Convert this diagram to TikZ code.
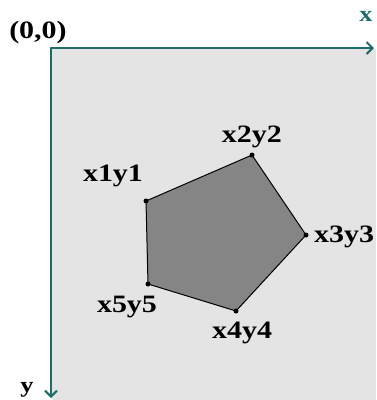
\documentclass[tikz,border=0pt]{standalone}
\usepackage{fontspec}
\setmainfont{Liberation Serif}[FakeStretch=1.2]
\usetikzlibrary{arrows.meta}

\definecolor{axisteal}{HTML}{1F6B6B}
\definecolor{screengray}{HTML}{E4E4E4}
\definecolor{polygray}{HTML}{858585}

\begin{document}
\begin{tikzpicture}[x=1pt, y=-1pt, >={Straight Barb[length=6pt,width=12pt]},
  line cap=round, line join=round,
  lbl/.style={anchor=base, inner sep=0pt, font=\bfseries\fontsize{25}{25}\selectfont},
  axlbl/.style={anchor=base, inner sep=0pt, font=\bfseries\fontsize{22}{22}\selectfont},
  vdot/.style={circle, fill=black, inner sep=0pt, minimum size=5pt}]

\useasboundingbox (0,0) rectangle (376,400);

% ----------------------------
% SCREEN AREA
% ----------------------------
\fill[screengray] (52,49) rectangle (376,400);

% ----------------------------
% AXES (origin top left, y down)
% ----------------------------
\coordinate (O) at (51,48);
\coordinate (Xend) at (374,48);
\coordinate (Yend) at (51,398);

\draw[axisteal, line width=2pt, ->] (O) -- (Xend);
\draw[axisteal, line width=2pt, ->] (O) -- (Yend);

\node[lbl] (orig) at (38,38) {(0,0)};
\node[axlbl, text=axisteal] (xlab) at (366,21) {x};
\node[axlbl] (ylab) at (27,392) {y};

% ----------------------------
% PENTAGON VERTICES
% ----------------------------
\coordinate (P1) at (146,201);
\coordinate (P2) at (252,155);
\coordinate (P3) at (306,235);
\coordinate (P4) at (236,311);
\coordinate (P5) at (148,284);

\filldraw[fill=polygray, draw=black, line width=1pt]
  (P1) -- (P2) -- (P3) -- (P4) -- (P5) -- cycle;

\foreach \p in {P1,P2,P3,P4,P5}
  \node[vdot] at (\p) {};

% Vertex labels
\node[lbl] (l1) at (113,181) {x1y1};
\node[lbl] (l2) at (252,142) {x2y2};
\node[lbl] (l3) at (344,242) {x3y3};
\node[lbl] (l5) at (127,312) {x5y5};
\node[lbl] (l4) at (242,338) {x4y4};

\end{tikzpicture}
\end{document}
